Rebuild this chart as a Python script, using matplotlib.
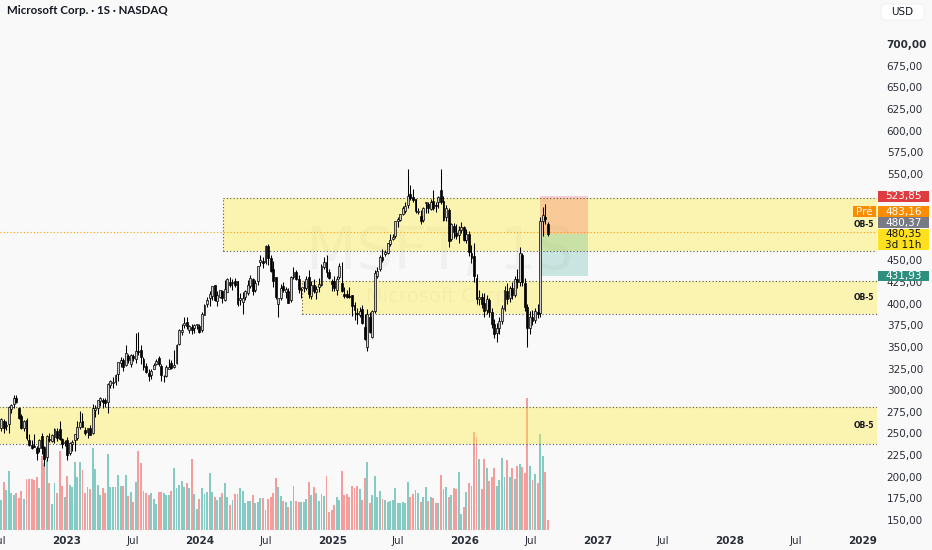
import numpy as np
import pandas as pd
import matplotlib
matplotlib.use("Agg")
import matplotlib.pyplot as plt
import matplotlib.dates as mdates
from matplotlib.patches import Rectangle, FancyBboxPatch

plt.rcParams['font.family'] = ['DejaVu Sans']

# ---------------- data ----------------
title = "Microsoft Corp. · 1S · NASDAQ"
watermark = "MSFT, 1S"
watermark_sub = "Microsoft Corp."
first_week = "2022-07-04"

opens = [256, 265, 259, 261, 278, 284, 291, 280, 270, 256, 266, 242, 237, 235, 233, 233, 247, 234, 223, 244,
         241, 246, 253, 255, 244, 239, 243, 227, 238, 242, 245, 257, 265, 254, 252, 256, 250, 277, 280, 287,
         289, 289, 286, 306, 308, 309, 319, 332, 335, 329, 340, 330, 339, 336, 345, 346, 336, 328, 320, 318,
         325, 330, 337, 328, 316, 316, 325, 332, 327, 331, 353, 367, 375, 379, 370, 373, 372, 375, 374, 369,
         387, 400, 406, 409, 421, 403, 408, 415, 404, 414, 425, 424, 426, 426, 404, 402, 408, 412, 420, 429,
         416, 426, 448, 449, 448, 467, 453, 440, 431, 400, 407, 420, 414, 415, 404, 431, 436, 429, 416, 418,
         418, 431, 409, 422, 414, 419, 421, 442, 448, 436, 426, 426, 416, 431, 424, 411, 411, 409, 410, 398,
         389, 387, 394, 373, 350, 385, 362, 391, 432, 440, 454, 457, 458, 469, 475, 478, 495, 497, 503, 507,
         514, 527, 523, 521, 506, 501, 497, 516, 515, 509, 519, 514, 517, 531, 519, 500, 508, 475, 490, 482,
         479, 485, 488, 473, 481, 459, 455, 430, 405, 408, 401, 393, 404, 390, 376, 366, 372, 380, 394, 415,
         406, 418, 410, 428, 425, 456, 424, 396, 372, 385, 381, 390, 389, 495, 500, 492]
highs = [268, 267, 265, 282, 284, 294, 294, 281, 272, 266, 268, 249, 242, 249, 235, 244, 251, 236, 248, 250,
         249, 256, 256, 264, 245, 242, 246, 240, 243, 249, 265, 276, 274, 258, 256, 260, 284, 283, 289, 292,
         291, 291, 308, 312, 315, 319, 333, 338, 337, 352, 342, 342, 342, 366, 367, 352, 338, 331, 324, 325,
         331, 336, 340, 330, 318, 329, 336, 335, 346, 353, 371, 376, 384, 384, 375, 377, 376, 377, 376, 390,
         400, 408, 415, 420, 422, 415, 416, 416, 427, 430, 431, 428, 430, 426, 412, 413, 416, 427, 433, 430,
         427, 443, 456, 454, 468, 469, 456, 449, 431, 407, 423, 425, 419, 418, 432, 442, 439, 433, 419, 426,
         432, 439, 426, 429, 420, 430, 446, 454, 456, 440, 428, 432, 432, 447, 448, 419, 416, 419, 410, 402,
         395, 396, 399, 388, 394, 390, 393, 439, 442, 456, 463, 462, 470, 480, 481, 496, 500, 504, 513, 518,
         555, 537, 533, 521, 511, 508, 512, 518, 518, 521, 531, 517, 524, 555, 524, 514, 510, 493, 493, 492,
         490, 494, 490, 486, 484, 468, 470, 434, 416, 412, 412, 410, 407, 395, 382, 378, 385, 398, 420, 424,
         420, 425, 432, 440, 465, 458, 430, 400, 392, 393, 395, 400, 500, 512, 515, 494]
lows = [253, 251, 254, 251, 274, 279, 285, 267, 255, 253, 242, 236, 232, 234, 219, 229, 226, 213, 218, 240,
        240, 239, 241, 242, 233, 235, 219, 225, 230, 230, 242, 255, 258, 248, 245, 248, 249, 269, 272, 282,
        280, 281, 274, 303, 303, 306, 311, 327, 322, 328, 332, 327, 334, 331, 341, 330, 323, 320, 311, 313,
        324, 329, 328, 311, 309, 315, 324, 324, 326, 330, 352, 364, 372, 371, 366, 365, 366, 371, 366, 367,
        387, 396, 397, 404, 403, 397, 406, 401, 403, 413, 419, 416, 419, 397, 398, 388, 404, 410, 418, 410,
        413, 422, 444, 441, 446, 445, 436, 419, 405, 385, 404, 413, 406, 401, 402, 428, 427, 412, 406, 414,
        416, 406, 405, 412, 405, 414, 420, 440, 431, 428, 415, 415, 410, 428, 413, 407, 406, 406, 386, 381,
        376, 384, 376, 358, 345, 366, 360, 389, 430, 438, 448, 455, 457, 467, 473, 476, 488, 495, 502, 505,
        510, 520, 517, 505, 504, 492, 494, 505, 505, 508, 508, 506, 510, 515, 495, 496, 465, 472, 476, 475,
        470, 482, 472, 470, 455, 447, 425, 400, 398, 395, 385, 388, 385, 372, 360, 356, 365, 376, 392, 400,
        402, 405, 408, 418, 420, 420, 392, 350, 365, 375, 378, 383, 385, 478, 492, 478]
closes = [267, 256, 260, 281, 283, 291, 286, 268, 256, 264, 245, 237, 233, 234, 228, 242, 233, 221, 247, 242,
          248, 255, 245, 244, 238, 240, 225, 239, 240, 249, 258, 263, 258, 250, 256, 248, 280, 280, 289, 291,
          286, 285, 307, 311, 309, 318, 333, 335, 327, 343, 335, 341, 337, 345, 344, 338, 327, 321, 316, 322,
          329, 334, 330, 317, 316, 327, 327, 326, 329, 352, 370, 370, 378, 374, 374, 370, 375, 376, 367, 388,
          398, 404, 411, 420, 404, 410, 416, 406, 417, 428, 421, 425, 421, 400, 406, 406, 415, 421, 430, 415,
          424, 443, 450, 447, 467, 453, 438, 426, 408, 406, 418, 416, 417, 401, 431, 436, 428, 417, 416, 418,
          428, 411, 422, 415, 417, 423, 443, 448, 436, 430, 423, 418, 429, 444, 415, 409, 408, 408, 397, 393,
          388, 391, 378, 359, 388, 367, 391, 435, 438, 454, 450, 460, 470, 474, 477, 495, 498, 503, 510, 513,
          524, 522, 520, 507, 506, 495, 510, 517, 511, 517, 510, 513, 523, 517, 497, 510, 472, 492, 483, 478,
          485, 488, 473, 480, 460, 453, 432, 405, 408, 400, 392, 405, 390, 377, 365, 372, 380, 395, 416, 405,
          418, 410, 428, 425, 458, 425, 396, 372, 385, 380, 391, 388, 495, 502, 498, 480.35]
volumes = [90, 145, 120, 178, 110, 105, 110, 95, 117, 92, 154, 153, 153, 150, 160, 127, 222, 200, 210, 142,
           78, 142, 112, 237, 132, 100, 163, 135, 128, 205, 158, 203, 180, 110, 130, 122, 245, 183, 134, 105,
           127, 110, 228, 128, 128, 130, 164, 132, 132, 164, 102, 115, 83, 144, 237, 202, 117, 110, 105, 110,
           94, 77, 114, 115, 110, 106, 105, 118, 185, 125, 134, 147, 130, 140, 125, 212, 108, 62, 94, 127,
           108, 115, 170, 115, 98, 90, 100, 110, 140, 100, 75, 90, 108, 108, 127, 117, 80, 88, 88, 105,
           82, 83, 96, 96, 60, 93, 98, 110, 155, 130, 102, 88, 85, 70, 87, 132, 88, 85, 85, 85,
           93, 145, 105, 128, 110, 88, 108, 102, 162, 55, 60, 75, 98, 90, 178, 105, 108, 98, 132, 125,
           132, 123, 90, 156, 205, 82, 105, 163, 100, 117, 94, 90, 85, 87, 90, 125, 80, 80, 83, 82,
           143, 100, 107, 120, 112, 84, 98, 128, 88, 100, 95, 82, 82, 165, 122, 128, 98, 105, 127, 122,
           174, 48, 69, 114, 142, 132, 293, 278, 214, 122, 214, 185, 148, 160, 185, 133, 150, 215, 160, 210,
           158, 187, 152, 192, 198, 188, 171, 395, 192, 150, 167, 142, 288, 222, 174, 30]

zone_tops = [522.1, 426.2, 280.6]
zone_bottoms = [460.8, 388.0, 237.8]
zone_starts = ["2024-03-07", "2024-10-10", "2022-04-01"]
zone_label = "OB-5"

pos_start, pos_end = "2026-07-27", "2026-12-06"
stop_price, entry_price, target_price = 523.85, 480.37, 431.93
pre_price = 483.16
last_price = 480.35
countdown = "3d 11h"

y_ticks = [700, 675, 650, 625, 600, 575, 550, 450, 425, 400, 375, 350, 325, 300, 275, 250, 225, 200, 175, 150]
x_tick_dates = ["2022-07-01", "2023-01-01", "2023-07-01", "2024-01-01", "2024-07-01", "2025-01-01",
                "2025-07-01", "2026-01-01", "2026-07-01", "2027-01-01", "2027-07-01", "2028-01-01",
                "2028-07-01", "2029-01-01"]
x_tick_labels = ["Jul", "2023", "Jul", "2024", "Jul", "2025", "Jul", "2026", "Jul", "2027", "Jul", "2028",
                 "Jul", "2029"]

# ---------------- figure ----------------
W, H = 932, 550
BG = '#f9f9f9'
fig = plt.figure(figsize=(W / 100, H / 100), dpi=100)
fig.patch.set_facecolor(BG)

ax_right_px, ax_bottom_px = 877, 530
pos = [0, 1 - ax_bottom_px / H, ax_right_px / W, ax_bottom_px / H]

axv = fig.add_axes(pos)
ax = fig.add_axes(pos, sharex=axv)
for a in (axv, ax):
    a.set_facecolor('none')
    for s in a.spines.values():
        s.set_visible(False)
axv.set_zorder(0)
ax.set_zorder(1)

o = np.array(opens, float)
h = np.array(highs, float)
l = np.array(lows, float)
c = np.array(closes, float)
v = np.array(volumes, float)
dates = pd.date_range(first_week, periods=len(c), freq='7D')
x = mdates.date2num(dates.values)

x_left = mdates.date2num(np.datetime64("2023-01-01")) - 181.5
x_right = mdates.date2num(np.datetime64("2029-01-01")) + 38.5
ax.set_xlim(x_left, x_right)
ax.set_ylim(138.5, 750.8)
axv.set_ylim(0, 1590)

# watermark
fig.text(440 / W, 1 - 252 / H, watermark, fontsize=42, color='#000000', alpha=0.035,
         ha='center', va='center', zorder=-1)
fig.text(440 / W, 1 - 296 / H, watermark_sub, fontsize=14, color='#000000', alpha=0.035,
         ha='center', va='center', zorder=-1)

# zones
yellow = (1.0, 0.92, 0.23, 0.38)
dot = (0, (1, 2))
for top, bot, st in zip(zone_tops, zone_bottoms, zone_starts):
    xs = mdates.date2num(np.datetime64(st))
    ax.add_patch(Rectangle((xs, bot), x_right + 100 - xs, top - bot, facecolor=yellow,
                           edgecolor='none', zorder=1))
    ax.hlines([top, bot], xs, x_right + 100, colors='#555555', linestyles=dot, lw=0.8, zorder=1.5)
    ax.vlines(xs, bot, top, colors='#555555', linestyles=dot, lw=0.8, zorder=1.5)
    ax.text(854 / ax_right_px, (top + bot) / 2, zone_label, transform=ax.get_yaxis_transform(),
            fontsize=5.5, fontweight='bold', color='#131722', ha='left', va='center', clip_on=True, zorder=6)

# position tool
ps = mdates.date2num(np.datetime64(pos_start))
pe = mdates.date2num(np.datetime64(pos_end))
ax.add_patch(Rectangle((ps, entry_price), pe - ps, stop_price - entry_price,
                       facecolor=(242 / 255, 54 / 255, 69 / 255, 0.22), edgecolor='none', zorder=1.2))
ax.add_patch(Rectangle((ps, target_price), pe - ps, entry_price - target_price,
                       facecolor=(8 / 255, 153 / 255, 129 / 255, 0.2), edgecolor='none', zorder=1.2))

# pre-market line
ax.axhline(pre_price, color='#ff9800', ls=dot, lw=0.8, zorder=1.6)

# volume
up = c >= o
teal = (38 / 255, 166 / 255, 154 / 255, 0.55)
red = (239 / 255, 83 / 255, 80 / 255, 0.55)
vcol = [teal if u else red for u in up]
axv.bar(x, v, width=5.2, color=vcol, edgecolor='none', zorder=2)
axv.set_yticks([])
axv.tick_params(axis='x', length=0, labelbottom=False)

# candles
ax.vlines(x, l, h, color='#000000', lw=0.75, zorder=3)
bb = np.minimum(o, c)
bh = np.maximum(np.abs(c - o), 0.8)
ax.bar(x[up], bh[up], bottom=bb[up], width=5.2, color='#d0d0d0', edgecolor='#000000', linewidth=0.5, zorder=4)
ax.bar(x[~up], bh[~up], bottom=bb[~up], width=5.2, color='#000000', edgecolor='#000000', linewidth=0.5, zorder=4)

# axes ticks
ax.yaxis.tick_right()
ax.set_yticks(y_ticks)
ax.set_yticklabels([f"{t:.2f}".replace('.', ',') for t in y_ticks])
ax.tick_params(axis='y', length=0, pad=7, labelsize=7.5, labelcolor='#2a2e39')
ax.get_yticklabels()[0].set_fontweight('bold')
ax.set_xticks(mdates.date2num(np.array(x_tick_dates, dtype='datetime64[D]')))
ax.set_xticklabels(x_tick_labels)
ax.tick_params(axis='x', length=0, pad=4, labelsize=7.5, labelcolor='#2a2e39')
for lab in ax.get_xticklabels():
    if lab.get_text().isdigit():
        lab.set_fontweight('bold')

# badges
def price_px(p):
    return H - ax.transData.transform((x_left, p))[1]


def badge(x0, x1, yc, hh, text, bg, fg, fs=7.5):
    fig.add_artist(Rectangle((x0 / W, 1 - (yc + hh / 2) / H), (x1 - x0) / W, hh / H,
                             transform=fig.transFigure, facecolor=bg, edgecolor='none', zorder=5))
    fig.text((x0 + x1) / 2 / W, 1 - yc / H, text, ha='center', va='center', color=fg,
             fontsize=fs, zorder=6)


def fmt(p):
    return f"{p:.2f}".replace('.', ',')


badge(878, 929, price_px(stop_price), 11, fmt(stop_price), '#df3c3f', 'white')
badge(853, 876, 211.7, 10.5, "Pré", '#fb8c00', 'white')
badge(878, 929, 211.7, 10.5, fmt(pre_price), '#fb8c00', 'white')
badge(878, 929, 222.7, 10.5, fmt(entry_price), '#787b86', 'white')
fig.add_artist(Rectangle((878 / W, 1 - 250 / H), 51 / W, 21 / H, transform=fig.transFigure,
                         facecolor='#ffe01e', edgecolor='none', zorder=5))
fig.text(903.5 / W, 1 - 234.5 / H, fmt(last_price), ha='center', va='center', color='#131722',
         fontsize=7.5, zorder=6)
fig.text(903.5 / W, 1 - 245 / H, countdown, ha='center', va='center', color='#131722',
         fontsize=7.5, zorder=6)
badge(878, 929, price_px(target_price), 10.5, fmt(target_price), '#2e8f7e', 'white')

# USD box
fig.add_artist(FancyBboxPatch((881 / W, 1 - 20 / H), 43 / W, 16 / H, boxstyle="round,pad=0,rounding_size=0.004",
                              transform=fig.transFigure, facecolor='white', edgecolor='#eeeeee', lw=0.6, zorder=5))
fig.text(902.5 / W, 1 - 12 / H, "USD", ha='center', va='center', fontsize=7.5, color='#131722', zorder=6)

# title
fig.text(7 / W, 1 - 11 / H, title, ha='left', va='center', fontsize=8.3, fontweight='bold',
         color='#131722', family=['Lato', 'DejaVu Sans'])

fig.savefig('out.png', dpi=100, facecolor=BG)
